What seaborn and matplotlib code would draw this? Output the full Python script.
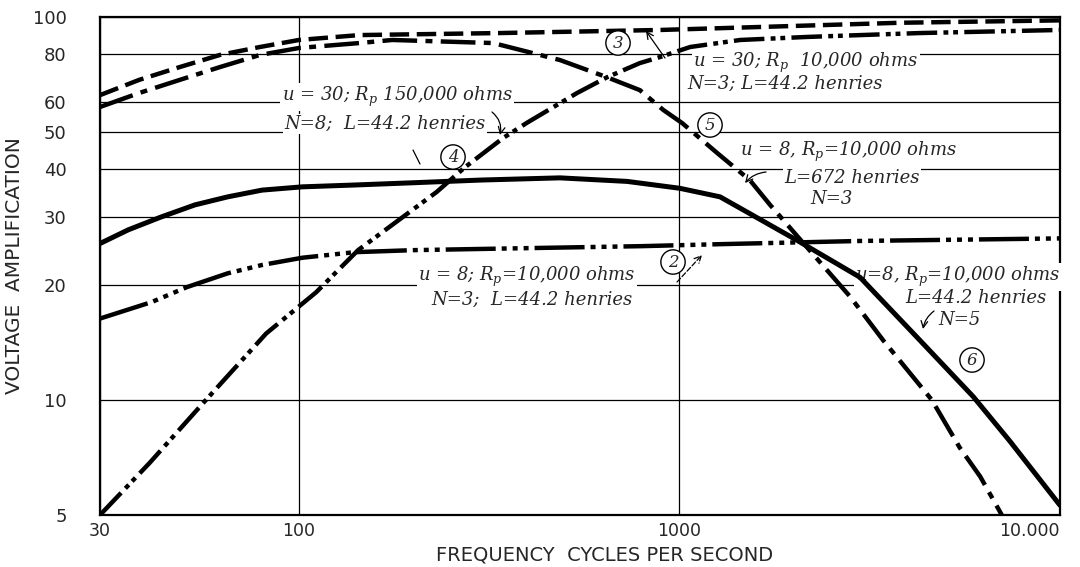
import matplotlib
matplotlib.use("Agg")
import matplotlib.pyplot as plt
import seaborn as sns

# frequency (c/s) and voltage amplification
freq_dashed = [30, 38, 48.6, 62, 79, 100, 144, 337, 889, 1278, 3800, 10000]
amp_dashed = [62.5, 68.5, 74, 79.6, 83.5, 87.1, 89.7, 90.8, 92.5, 93.5, 96.6, 98]

freq_c5 = [30, 38, 48.6, 62, 79, 100, 144, 176, 324, 485, 645, 787, 906, 1017, 1257,
           1530, 1730, 2113, 2808, 3430, 4600, 5450, 6170, 7030]
amp_c5 = [58.2, 63.3, 68.5, 74, 79.6, 83, 85.5, 87.1, 85.5, 77.2, 69.6, 64.4, 57.2, 52.8, 44.1,
          37.5, 32.3, 25.7, 18.6, 14.3, 10, 7.5, 6.3, 5]

freq_c4 = [30, 40.5, 57, 82, 111, 143, 230, 273, 344, 397, 538, 645, 787, 889,
           1067, 1444, 2163, 2990, 4280, 10000]
amp_c4 = [5, 6.84, 10, 14.9, 19.1, 24.6, 34.9, 40.5, 48.3, 52.9, 63.3, 69.6, 75.8, 78.6,
          83.5, 87.1, 88.7, 89.7, 90.8, 92.5]

freq_solid = [30, 35.6, 43.3, 53.3, 65, 80, 102, 140, 200, 300, 485, 728, 1000, 1278,
              1628, 2036, 2980, 4200, 5910, 7380, 10000]
amp_solid = [25.6, 27.8, 30, 32.3, 33.9, 35.3, 36, 36.4, 36.9, 37.5, 38, 37.2, 35.7, 33.9,
             29.6, 26.1, 20.9, 14.6, 10.2, 7.8, 5.3]

freq_c2 = [30, 41, 50.8, 65, 80, 102, 140, 200, 400, 800, 1278, 3000, 10000]
amp_c2 = [16.3, 18, 19.7, 21.4, 22.5, 23.5, 24.3, 24.6, 24.9, 25.2, 25.5, 26, 26.4]

y_ticks = [5, 10, 20, 30, 40, 50, 60, 80, 100]
x_ticks = [30, 100, 1000, 10000]
x_ticklabels = ["30", "100", "1000", "10.000"]

sns.set_theme(style="white")
plt.rcParams["font.family"] = ["DejaVu Sans"]
plt.rcParams["mathtext.fontset"] = "dejavuserif"
plt.rcParams["lines.scale_dashes"] = False

fig, ax = plt.subplots(figsize=(10.8, 5.67), dpi=100)
fig.subplots_adjust(left=0.0926, right=0.9815, bottom=0.0917, top=0.970)

curves = [
    (freq_dashed, amp_dashed, (0, (14, 5.5)), 3.2),
    (freq_c5, amp_c5, (0, (25, 6, 5, 6)), 3.2),
    (freq_c4, amp_c4, (0, (22, 4.5, 3.5, 3.5, 3.5, 4.5)), 3.2),
    (freq_solid, amp_solid, "-", 3.6),
    (freq_c2, amp_c2, (0, (36, 4.3, 3.6, 4.3, 3.6, 4.3, 3.6, 4.3)), 3.2),
]
for fx, ay, ls, lw in curves:
    sns.lineplot(x=fx, y=ay, ax=ax, color="black", linewidth=lw, linestyle=ls,
                 estimator=None, sort=False, zorder=4)

ax.set_xscale("log")
ax.set_yscale("log")
ax.set_xlim(30, 10000)
ax.set_ylim(5, 100)
ax.set_xticks(x_ticks)
ax.set_xticklabels(x_ticklabels)
ax.set_yticks(y_ticks)
ax.set_yticklabels([str(v) for v in y_ticks])
ax.minorticks_off()
ax.xaxis.get_ticklabels()[-1].set_ha("right")
ax.tick_params(axis="y", length=0, pad=24, labelsize=13)
ax.tick_params(axis="x", length=0, pad=5, labelsize=12.5)
ax.grid(True, which="major", color="black", linewidth=0.9, zorder=1)
for sp in ax.spines.values():
    sp.set_color("black")
    sp.set_linewidth(1.6)

ax.set_ylabel("VOLTAGE  AMPLIFICATION", fontsize=14.5, labelpad=6)
ax.set_xlabel("")
fig.text(605 / 1080, 1 - 555 / 567, "FREQUENCY  CYCLES PER SECOND", ha="center",
         va="center", fontsize=14)


def P(px, py):
    return ((px - 100) / 960, (515 - py) / 498)


lab = dict(family="DejaVu Serif", style="italic", fontsize=13, ha="center", va="center",
           transform=ax.transAxes, zorder=3,
           bbox=dict(facecolor="white", edgecolor="none", pad=1.0))
texts = [
    (397, 97, r"u = 30; $R_p$ 150,000 ohms"),
    (385, 124, "N=8;  L=44.2 henries"),
    (806, 63, r"u = 30; $R_p$  10,000 ohms"),
    (785, 84, "N=3; L=44.2 henries"),
    (849, 152, r"u = 8, $R_p$=10,000 ohms"),
    (852, 178, "L=672 henries"),
    (832, 199, "N=3"),
    (527, 277, r"u = 8; $R_p$=10,000 ohms"),
    (532, 300, "N=3;  L=44.2 henries"),
    (958, 277, r"u=8, $R_p$=10,000 ohms"),
    (976, 298, "L=44.2 henries"),
    (960, 320, "N=5"),
]
for px, py, s in texts:
    x, y = P(px, py)
    ax.text(x, y, s, **lab)

circles = [(618, 43, "3"), (453, 157, "4"), (710, 125, "5"), (673, 262, "2"), (972, 360, "6")]
for px, py, s in circles:
    x, y = P(px, py)
    ax.text(x, y, s, family="DejaVu Serif", style="italic", fontsize=12, ha="center",
            va="center", transform=ax.transAxes, zorder=5,
            bbox=dict(boxstyle="circle,pad=0.22", facecolor="white", edgecolor="black",
                      linewidth=1.0))

arrows = [
    ((492, 112), (500, 135), "->", "arc3,rad=-0.3", "-"),
    ((413, 150), (420, 164), "-", "arc3,rad=0", "-"),
    ((665, 58), (646, 31), "->", "arc3,rad=0", "-"),
    ((766, 172), (745, 183), "->", "arc3,rad=0.2", "-"),
    ((677, 282), (702, 255), "->", "arc3,rad=0", "--"),
    ((934, 311), (923, 329), "->", "arc3,rad=0.2", "-"),
]
for start, end, style, conn, lstyle in arrows:
    ax.annotate("", xy=P(*end), xytext=P(*start), xycoords="axes fraction",
                textcoords="axes fraction", zorder=5,
                arrowprops=dict(arrowstyle=style, color="black", lw=0.9,
                                connectionstyle=conn, linestyle=lstyle,
                                shrinkA=0, shrinkB=0))

fig.savefig("out.png", dpi=100, facecolor="white")
